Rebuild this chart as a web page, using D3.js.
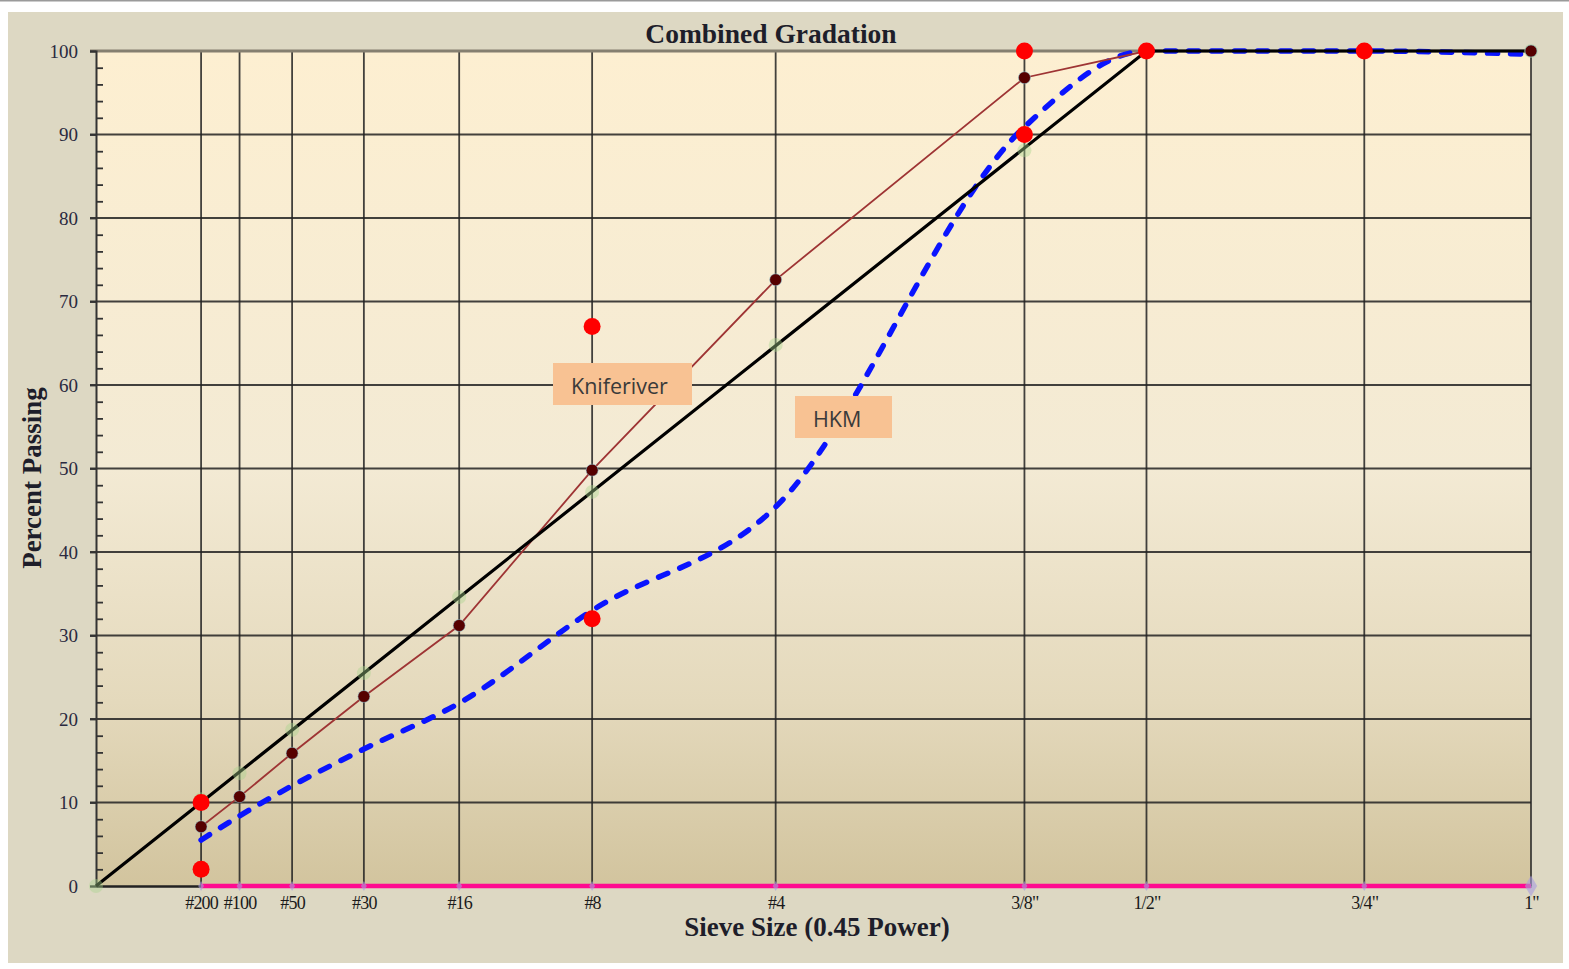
<!DOCTYPE html>
<html>
<head>
<meta charset="utf-8">
<script src="https://cdn.jsdelivr.net/npm/d3@7"></script>
<style>
  body { margin: 0; background: #fff; }
  svg { display: block; }
</style>
</head>
<body>
<svg id="chart" width="1569" height="969"></svg>
<script>
// sieve sizes (mm) and their labels
var sieveNames = ["#200", "#100", "#50", "#30", "#16", "#8", "#4", "3/8\"", "1/2\"", "3/4\"", "1\""];
var sieveMm = [0.075, 0.15, 0.3, 0.6, 1.18, 2.36, 4.75, 9.5, 12.5, 19, 25];

// percent passing
var kniferiver = [7.1, 10.7, 15.9, 22.7, 31.2, 49.8, 72.6, 96.8, 100, 100, 100];
var hkm = [5.5, 8.4, 12.0, 16.4, 21.9, 33.0, 45.4, 90.9, 100, 100, 99.6];

// maximum density line and its faint markers
var maxDensityMm = [0, 12.5, 25];
var maxDensityPct = [0, 100, 100];
var maxDensityMarks = [0, 10.4, 13.5, 18.7, 25.5, 34.6, 47.2, 64.8, 88.1, 100, 100, 100];
var maxDensityMarkMm = [0].concat(sieveMm);

// control points (red dots)
var controlMm = [0.075, 0.075, 2.36, 2.36, 9.5, 9.5, 12.5, 19];
var controlPct = [2, 10, 32, 67, 90, 100, 100, 100];

var yTicks = d3.range(0, 101, 10);

var W = 1569, H = 969;
var svg = d3.select("#chart");

var x = d3.scalePow().exponent(0.45).domain([0, 25]).range([96, 1531]);
var y = d3.scaleLinear().domain([0, 100]).range([886, 51]);

// page frame
svg.append("rect").attr("x", 0).attr("y", 0).attr("width", W).attr("height", 1.5).attr("fill", "#9a9a9a");
svg.append("rect")
    .attr("x", 8).attr("y", 12).attr("width", 1555).attr("height", 951)
    .attr("fill", "#ddd8c3");

// plot area gradient
var defs = svg.append("defs");
var grad = defs.append("linearGradient").attr("id", "plotBg")
    .attr("x1", 0).attr("y1", 0).attr("x2", 0).attr("y2", 1);
grad.append("stop").attr("offset", "0%").attr("stop-color", "#fdefd1");
grad.append("stop").attr("offset", "50%").attr("stop-color", "#f3ead4");
grad.append("stop").attr("offset", "78%").attr("stop-color", "#e4d9bc");
grad.append("stop").attr("offset", "100%").attr("stop-color", "#d2c49e");

svg.append("rect")
    .attr("x", x(0)).attr("y", y(100))
    .attr("width", x(25) - x(0)).attr("height", y(0) - y(100))
    .attr("fill", "url(#plotBg)");

// grid
var grid = svg.append("g").attr("stroke", "#222").attr("stroke-opacity", 0.85).attr("stroke-width", 1.8);
grid.selectAll(".hg").data(yTicks.filter(d => d > 0 && d < 100)).enter().append("line")
    .attr("x1", x(0) - 6).attr("x2", x(25))
    .attr("y1", d => y(d)).attr("y2", d => y(d));
grid.selectAll(".vg").data(sieveMm).enter().append("line")
    .attr("x1", d => x(d)).attr("x2", d => x(d))
    .attr("y1", y(100)).attr("y2", y(0));

// top border
svg.append("line")
    .attr("x1", x(0) - 6).attr("x2", x(25))
    .attr("y1", y(100)).attr("y2", y(100))
    .attr("stroke", "#857f70").attr("stroke-width", 3);

// y axis
var yAxis = svg.append("g").attr("transform", "translate(" + x(0) + ",0)")
    .call(d3.axisLeft(y).tickValues(yTicks).tickSize(6).tickPadding(12));
yAxis.select(".domain").attr("stroke", "#333").attr("stroke-width", 2);
yAxis.selectAll(".tick line").attr("stroke", "#333").attr("stroke-width", 1.8);
yAxis.selectAll("text")
    .attr("font-family", "Liberation Serif, serif").attr("font-size", 19)
    .attr("fill", "#2a2a40");

var yMinor = svg.append("g").attr("transform", "translate(" + x(0) + ",0)")
    .call(d3.axisRight(y).tickValues(d3.range(2, 100, 2).filter(d => d % 10 != 0)).tickSize(7).tickFormat(""));
yMinor.select(".domain").remove();
yMinor.selectAll(".tick line").attr("stroke", "#333").attr("stroke-width", 1.8);

// x axis
var xAxis = svg.append("g").attr("transform", "translate(0," + y(0) + ")")
    .call(d3.axisBottom(x).tickValues(sieveMm).tickSize(0).tickPadding(10)
        .tickFormat((d, i) => sieveNames[i]));
xAxis.select(".domain").attr("stroke", "#222").attr("stroke-width", 2.5);
xAxis.selectAll("text")
    .attr("font-family", "Liberation Serif, serif").attr("font-size", 18)
    .attr("letter-spacing", "-0.8px")
    .attr("fill", "#1a1a1a");

// magenta base line
svg.append("line")
    .attr("x1", x(sieveMm[0])).attr("x2", x(25))
    .attr("y1", y(0)).attr("y2", y(0))
    .attr("stroke", "#ff0a90").attr("stroke-width", 4.5);
svg.selectAll(".baseMark").data(sieveMm).enter().append("path")
    .attr("d", d3.symbol().type(d3.symbolDiamond).size(d => d == 25 ? 130 : 30))
    .attr("transform", d => "translate(" + x(d) + "," + y(0) + ")")
    .attr("fill", "#a89ce0").attr("opacity", 0.6);

var line = d3.line().x(d => x(d[0])).y(d => y(d[1]));

// HKM, smoothed dashed line
svg.append("path")
    .datum(d3.zip(sieveMm, hkm))
    .attr("d", d3.line().x(d => x(d[0])).y(d => y(d[1])).curve(d3.curveMonotoneX))
    .attr("fill", "none").attr("stroke", "#0a14ff").attr("stroke-width", 5.5)
    .attr("stroke-dasharray", "10 13").attr("stroke-linecap", "round");

// Kniferiver line
svg.append("path")
    .datum(d3.zip(sieveMm, kniferiver))
    .attr("d", line)
    .attr("fill", "none").attr("stroke", "#9e3434").attr("stroke-width", 1.8);

// maximum density line
svg.append("path")
    .datum(d3.zip(maxDensityMm, maxDensityPct))
    .attr("d", line)
    .attr("fill", "none").attr("stroke", "#000").attr("stroke-width", 3.2);
svg.selectAll(".mdMark").data(d3.zip(maxDensityMarkMm, maxDensityMarks)).enter().append("circle")
    .attr("cx", d => x(d[0])).attr("cy", d => y(d[1])).attr("r", 7)
    .attr("fill", "#a8d48c").attr("opacity", 0.4);

svg.selectAll(".kMark").data(d3.zip(sieveMm, kniferiver)).enter().append("circle")
    .attr("cx", d => x(d[0])).attr("cy", d => y(d[1])).attr("r", 6)
    .attr("fill", "#560000").attr("stroke", "#8fcfe0").attr("stroke-opacity", 0.5).attr("stroke-width", 1);

// control points
svg.selectAll(".cp").data(d3.zip(controlMm, controlPct)).enter().append("circle")
    .attr("cx", d => x(d[0])).attr("cy", d => y(d[1])).attr("r", 8.5)
    .attr("fill", "#ff0000");

// labels
var notes = [
    {text: "Kniferiver", left: 553, top: 363, w: 139, h: 42},
    {text: "HKM", left: 795, top: 396, w: 97, h: 42}
];
var note = svg.selectAll(".note").data(notes).enter().append("g");
note.append("rect")
    .attr("x", d => d.left).attr("y", d => d.top)
    .attr("width", d => d.w).attr("height", d => d.h)
    .attr("fill", "#f8c293");
note.append("text")
    .attr("x", d => d.left + 18).attr("y", d => d.top + 31)
    .attr("font-family", "Open Sans, sans-serif").attr("font-size", 21.5)
    .attr("fill", "#3a3a3a")
    .text(d => d.text);

// titles
svg.append("text")
    .attr("x", 771).attr("y", 43).attr("text-anchor", "middle")
    .attr("font-family", "Liberation Serif, serif").attr("font-weight", "bold").attr("font-size", 27.5)
    .attr("fill", "#1e1e2a")
    .text("Combined Gradation");
svg.append("text")
    .attr("x", 817).attr("y", 936).attr("text-anchor", "middle")
    .attr("font-family", "Liberation Serif, serif").attr("font-weight", "bold").attr("font-size", 27)
    .attr("fill", "#1e1e2a")
    .text("Sieve Size (0.45 Power)");
svg.append("text")
    .attr("transform", "translate(41,478) rotate(-90)").attr("text-anchor", "middle")
    .attr("font-family", "Liberation Serif, serif").attr("font-weight", "bold").attr("font-size", 27)
    .attr("fill", "#1e1e2a")
    .text("Percent Passing");
</script>
</body>
</html>
